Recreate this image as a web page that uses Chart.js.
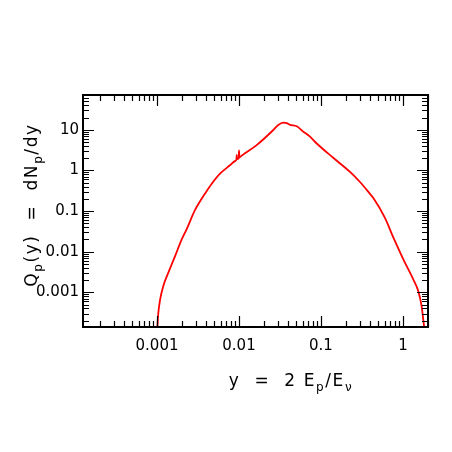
<!DOCTYPE html>
<html>
<head>
<meta charset="utf-8">
<script src="https://cdn.jsdelivr.net/npm/chart.js@4.4.1/dist/chart.umd.min.js"></script>
<style>
  html, body { margin: 0; padding: 0; background: #fff; }
  canvas { display: block; }
</style>
</head>
<body>
<canvas id="spectrum" width="452" height="452"></canvas>
<script>
// y = 2 Ep/Ev
const yRatio = [
    0.00100, 0.00101, 0.001037, 0.00109, 0.00119, 0.00137, 0.00166, 0.0020, 0.0023,
    0.0029, 0.0035, 0.00385, 0.00465, 0.00586, 0.00776, 0.0090, 0.0093, 0.00938, 0.00945,
    0.0099, 0.0100, 0.0101, 0.0106, 0.0164, 0.0262, 0.0301, 0.0347, 0.0382, 0.0419,
    0.0506, 0.0609, 0.0734, 0.0887, 0.141, 0.226, 0.299, 0.396, 0.435, 0.603,
    0.762, 1.01, 1.34, 1.54, 1.69, 1.77, 1.85
];
// Qp(y) = dNp/dy at those points
const qValues = [
    1.0e-4, 1.41e-4, 3.1e-4, 6.6e-4, 1.41e-3, 3.0e-3, 7.8e-3, 0.020, 0.036,
    0.105, 0.20, 0.27, 0.47, 0.83, 1.34, 1.72, 1.86, 2.4, 1.9,
    2.0, 3.1, 2.08, 2.25, 4.2, 9.9, 13.2, 15.1, 14.6, 13.3,
    12.2, 9.0, 6.8, 4.6, 2.05, 0.92, 0.52, 0.265, 0.21, 0.068,
    0.0224, 0.0065, 0.00206, 0.00106, 4.5e-4, 2.1e-4, 1.0e-4
];

const xTickValues = [0.001, 0.01, 0.1, 1];
const xTickLabels = ['0.001', '0.01', '0.1', '1'];
const yTickValues = [0.001, 0.01, 0.1, 1, 10];
const yTickLabels = ['0.001', '0.01', '0.1', '1', '10'];
const xRange = [1.25e-4, 2.02];
const yRange = [1.4e-4, 72];

// every m x 10^n that falls inside [min, max]
function logTicks(min, max) {
    const out = [];
    for (let e = Math.floor(Math.log10(min)); e <= Math.ceil(Math.log10(max)); e++) {
        for (let m = 1; m < 10; m++) {
            const v = m * Math.pow(10, e);
            if (v >= min && v <= max) out.push({ v: v, major: m === 1 });
        }
    }
    return out;
}

// text with subscripts, centred on (x, y)
function drawRich(ctx, parts, x, y, size) {
    const big = size + 'px "DejaVu Sans"';
    const small = Math.round(size * 0.7) + 'px "DejaVu Sans"';
    ctx.letterSpacing = '1.6px';
    let w = 0;
    parts.forEach(p => {
        ctx.font = p.sub ? small : big;
        w += ctx.measureText(p.t).width;
    });
    let cx = x - w / 2;
    ctx.textBaseline = 'alphabetic';
    ctx.textAlign = 'left';
    parts.forEach(p => {
        ctx.font = p.sub ? small : big;
        ctx.fillText(p.t, cx, y + (p.sub ? size * 0.3 : 0));
        cx += ctx.measureText(p.t).width;
    });
    ctx.letterSpacing = '0px';
}

const framePlugin = {
    id: 'frame',
    afterDatasetsDraw(chart) {
        const { ctx, chartArea: a, scales } = chart;
        ctx.save();
        ctx.strokeStyle = '#000';
        ctx.fillStyle = '#000';
        ctx.lineWidth = 1.2;
        ctx.beginPath();
        logTicks(xRange[0], xRange[1]).forEach(t => {
            const px = Math.round(scales.x.getPixelForValue(t.v)) + 0.5;
            const len = t.major ? 11 : 6;
            ctx.moveTo(px, a.bottom); ctx.lineTo(px, a.bottom - len);
            ctx.moveTo(px, a.top); ctx.lineTo(px, a.top + len);
        });
        logTicks(yRange[0], yRange[1]).forEach(t => {
            const py = Math.round(scales.y.getPixelForValue(t.v)) + 0.5;
            const len = t.major ? 11 : 6;
            ctx.moveTo(a.left, py); ctx.lineTo(a.left + len, py);
            ctx.moveTo(a.right, py); ctx.lineTo(a.right - len, py);
        });
        ctx.stroke();
        ctx.lineWidth = 2;
        ctx.strokeRect(a.left, a.top, a.right - a.left, a.bottom - a.top);

        // axis titles
        drawRich(ctx, [
            { t: 'y  =  2 E' }, { t: 'p', sub: true }, { t: '/E' }, { t: '\u03bd', sub: true }
        ], 291, 386, 17);
        ctx.translate(37, 205);
        ctx.rotate(-Math.PI / 2);
        drawRich(ctx, [
            { t: 'Q' }, { t: 'p', sub: true }, { t: '(y)  =  dN' }, { t: 'p', sub: true }, { t: '/dy' }
        ], 0, 0, 17);
        ctx.restore();
    }
};

Chart.defaults.font.family = '"DejaVu Sans"';
Chart.defaults.font.size = 15;
Chart.defaults.color = '#000';

new Chart(document.getElementById('spectrum'), {
    type: 'scatter',
    data: {
        datasets: [{
            data: yRatio.map((v, i) => ({ x: v, y: qValues[i] })),
            showLine: true,
            borderColor: '#ff0000',
            borderWidth: 1.8,
            pointRadius: 0,
            cubicInterpolationMode: 'monotone'
        }]
    },
    options: {
        responsive: false,
        animation: false,
        layout: { padding: { top: 95, right: 24, left: 0, bottom: 0 } },
        plugins: { legend: { display: false }, tooltip: { enabled: false } },
        scales: {
            x: {
                type: 'logarithmic',
                min: xRange[0],
                max: xRange[1],
                bounds: 'data',
                grid: { display: false, drawTicks: false },
                border: { display: false },
                afterFit: s => { s.height = 125; },
                afterBuildTicks: s => { s.ticks = xTickValues.map(v => ({ value: v })); },
                ticks: {
                    padding: 10,
                    maxRotation: 0,
                    autoSkip: false,
                    callback: (v, i) => xTickLabels[i]
                }
            },
            y: {
                type: 'logarithmic',
                min: yRange[0],
                max: yRange[1],
                bounds: 'data',
                grid: { display: false, drawTicks: false },
                border: { display: false },
                afterFit: s => { s.width = 83; },
                afterBuildTicks: s => { s.ticks = yTickValues.map(v => ({ value: v })); },
                ticks: {
                    padding: 4,
                    autoSkip: false,
                    callback: (v, i) => yTickLabels[i]
                }
            }
        }
    },
    plugins: [framePlugin]
});
</script>
</body>
</html>
